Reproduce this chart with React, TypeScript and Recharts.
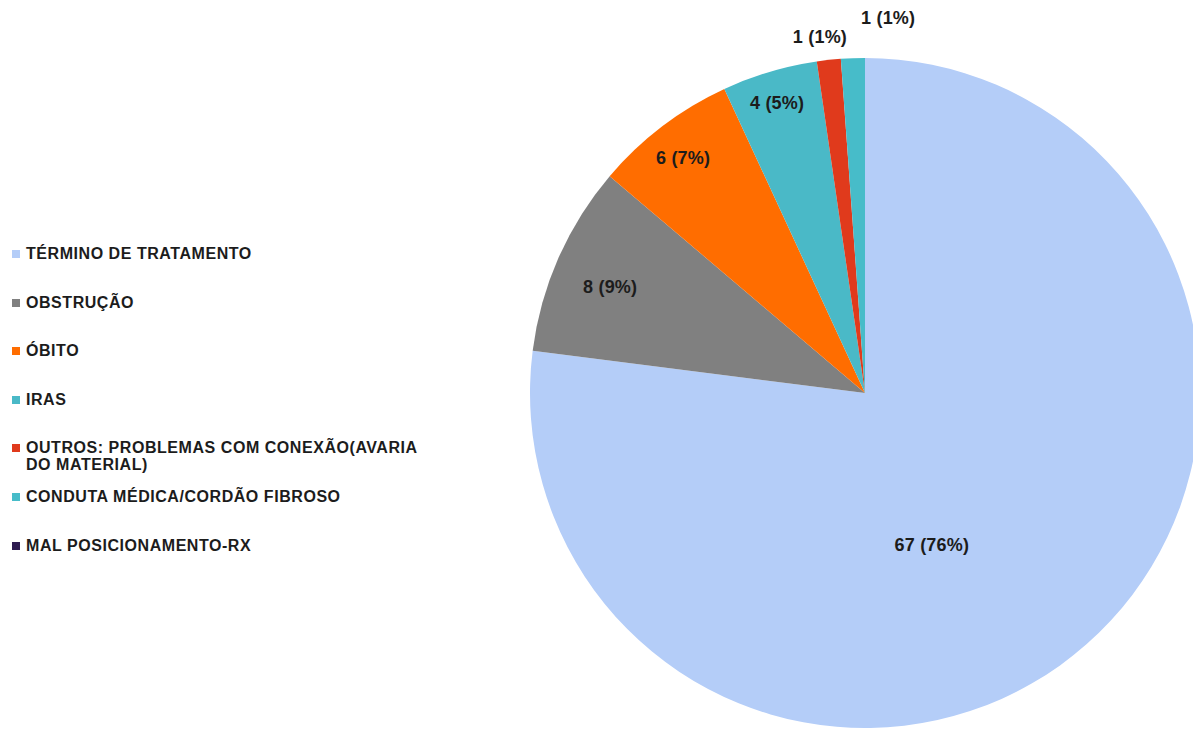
import { PieChart, Pie, Cell } from 'recharts';

const categories = [
  'TÉRMINO DE TRATAMENTO',
  'OBSTRUÇÃO',
  'ÓBITO',
  'IRAS',
  'OUTROS: PROBLEMAS COM CONEXÃO(AVARIA DO MATERIAL)',
  'CONDUTA MÉDICA/CORDÃO FIBROSO',
  'MAL POSICIONAMENTO-RX',
];
const counts = [67, 8, 6, 4, 1, 1, 0];
const percents = [76, 9, 7, 5, 1, 1, 0];

const COLORS = ['#b4cdf8', '#808080', '#ff6d00', '#4ab9c7', '#e03a1c', '#47bcc9', '#2e1b50'];

// label placement relative to each slice: radius fraction + angle nudge (deg)
const LABEL_POS = [
  { r: 0.495, da: -17.6 },
  { r: 0.824, da: 1.2 },
  { r: 0.887, da: 0.5 },
  { r: 0.905, da: 0.3 },
  { r: 1.072, da: 1.0 },
  { r: 1.122, da: -5.6 },
  { r: 1.1, da: 0 },
];

const data = categories.map((name, i) => ({ name, value: counts[i], pct: percents[i] }));

const FONT = '"Liberation Sans", Arial, sans-serif';
const RADIAN = Math.PI / 180;

const renderLabel = (props: any) => {
  const { cx, cy, midAngle, outerRadius, index } = props;
  if (!counts[index]) return null;
  const pos = LABEL_POS[index];
  const a = (midAngle + pos.da) * RADIAN;
  const r = outerRadius * pos.r;
  const x = cx + r * Math.cos(-a);
  const y = cy + r * Math.sin(-a);
  return (
    <text
      x={x}
      y={y}
      textAnchor="middle"
      dominantBaseline="central"
      fill="#1c1c1c"
      fontFamily={FONT}
      fontSize={18}
      fontWeight="bold"
      letterSpacing={0.2}
    >
      {`${counts[index]} (${percents[index]}%)`}
    </text>
  );
};

export default function App() {
  return (
    <div style={{ position: 'absolute', left: 0, top: 0, width: 1193, height: 732, background: '#fff', fontFamily: FONT }}>
      <PieChart width={1193} height={732} margin={{ top: 0, right: 0, bottom: 0, left: 0 }}>
        <Pie
          data={data}
          dataKey="value"
          nameKey="name"
          cx={865}
          cy={393}
          outerRadius={335}
          startAngle={90}
          endAngle={-270}
          stroke="none"
          labelLine={false}
          label={renderLabel}
          isAnimationActive={false}
        >
          {data.map((d, i) => (
            <Cell key={`cell-${i}`} fill={COLORS[i]} />
          ))}
        </Pie>
      </PieChart>
      <div style={{ position: 'absolute', left: 12, top: 245, width: 430 }}>
        {categories.map((name, i) => (
          <div key={name} style={{ position: 'relative', height: 48.6, paddingLeft: 14 }}>
            <span
              style={{
                position: 'absolute',
                left: 0,
                top: 5,
                width: 8,
                height: 8,
                background: COLORS[i],
              }}
            />
            <div
              style={{
                fontSize: 16,
                lineHeight: '17px',
                fontWeight: 'bold',
                color: '#1c1c1c',
                letterSpacing: 0.55,
                width: 410,
              }}
            >
              {name}
            </div>
          </div>
        ))}
      </div>
    </div>
  );
}
